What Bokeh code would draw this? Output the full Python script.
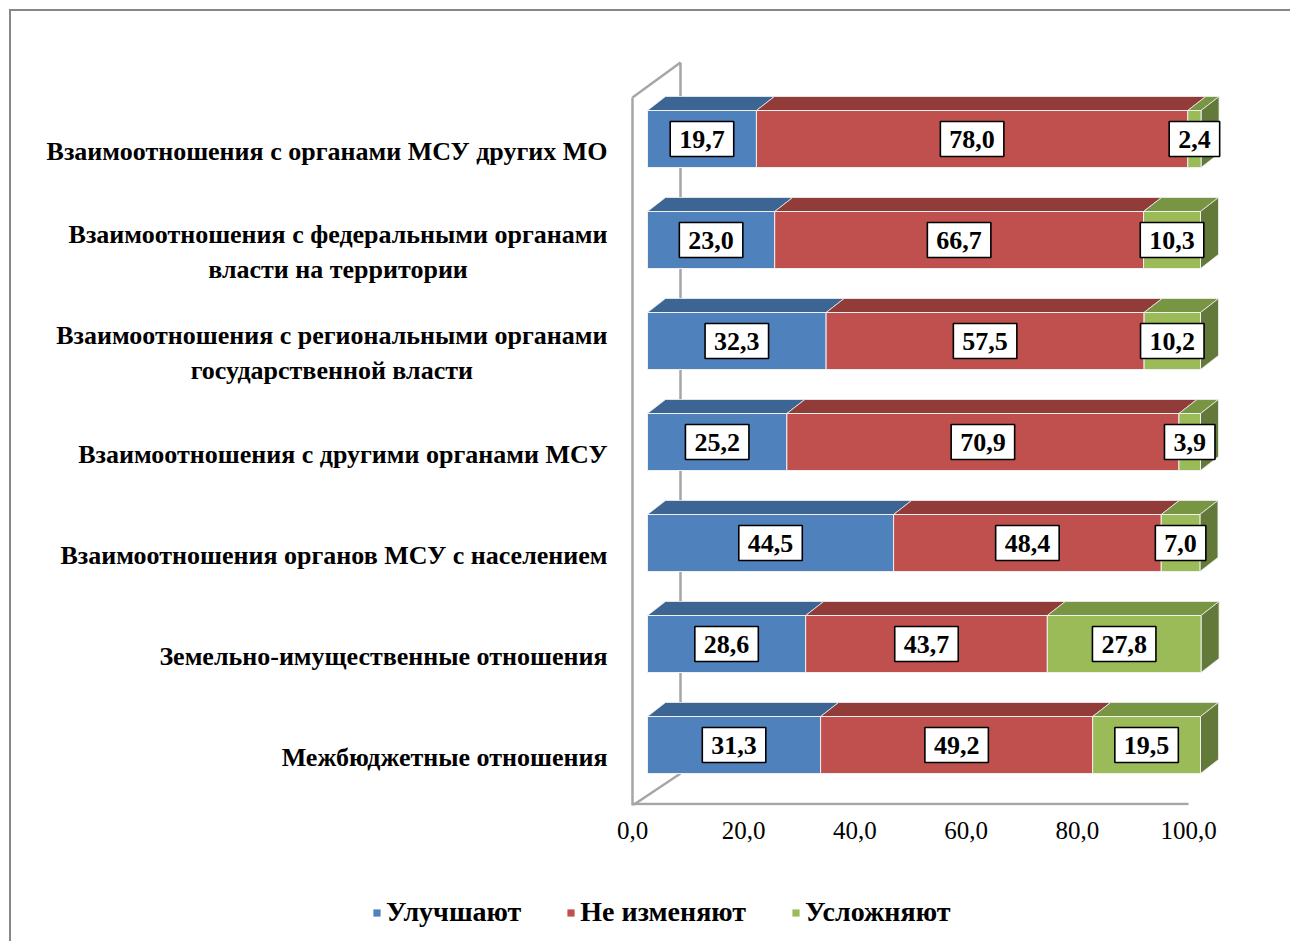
from bokeh.plotting import figure
from bokeh.layouts import column
from bokeh.models import Range1d, FixedTicker, Legend, LegendItem
from bokeh.embed import file_html
from bokeh.resources import INLINE
from bokeh.core.properties import value

# ---------------- data ----------------
categories = [
    "Взаимоотношения с органами МСУ других МО",
    "Взаимоотношения с федеральными органами\nвласти на территории",
    "Взаимоотношения с региональными органами\nгосударственной власти",
    "Взаимоотношения с другими органами МСУ",
    "Взаимоотношения органов МСУ с населением",
    "Земельно-имущественные отношения",
    "Межбюджетные отношения",
]
improve = [19.7, 23.0, 32.3, 25.2, 44.5, 28.6, 31.3]
no_change = [78.0, 66.7, 57.5, 70.9, 48.4, 43.7, 49.2]
complicate = [2.4, 10.3, 10.2, 3.9, 7.0, 27.8, 19.5]
series_names = ["Улучшают", "Не изменяют", "Усложняют"]
x_ticks = [0, 20, 40, 60, 80, 100]
x_tick_labels = ["0,0", "20,0", "40,0", "60,0", "80,0", "100,0"]

# ---------------- styling / geometry (page pixels) ----------------
front_colors = ["#4F81BD", "#C0504D", "#9BBB59"]
top_colors = ["#3C6593", "#923C3A", "#779542"]
side_color = "#62793A"
wall_color = "#A6A6A6"
FONT = "Liberation Serif"

ORIGIN = 11.0          # page offset of the canvas (margin 9 + border 2)
W = 1279
H_MAIN, H_LEG = 844, 86
SX = 5.56              # px per value unit
SY = 101.0             # px per row
AX0 = 632.0 - ORIGIN   # canvas x of value 0
ROW0_Y = 744.5 - ORIGIN  # canvas y of bottom row centre
FRAME_B = 805.0 - ORIGIN

x_start = -AX0 / SX
x_end = (W - AX0) / SX
y_start = (ROW0_Y - FRAME_B) / SY
y_end = ROW0_Y / SY

OFF = 15.0 / SX          # bar front face offset from axis origin
K = 553.0 / 556.0        # depth scale of bars
DX = 18.0 / SX           # 3-D depth, x
DY = 14.0 / SY           # 3-D depth, y
BAR_H = 57.0 / SY
WALL_D = 48.0 / SX

p = figure(frame_width=W, frame_height=int(FRAME_B),
           x_range=Range1d(x_start, x_end), y_range=Range1d(y_start, y_end),
           output_backend="svg", toolbar_location=None, y_axis_location=None,
           min_border_left=0, min_border_top=0, min_border_right=0,
           min_border_bottom=int(H_MAIN - FRAME_B))
p.xgrid.visible = False
p.ygrid.visible = False
p.outline_line_color = None
p.background_fill_color = "white"
p.border_fill_color = "white"

# ---------------- 3-D walls ----------------
def py(page_y):
    return (ROW0_Y - (page_y - ORIGIN)) / SY

wall_front_top = py(97)
wall_back_top = py(62)
wall_back_bot = py(773)
p.line([0, 0], [y_start, wall_front_top], line_color=wall_color, line_width=2.5)
p.line([WALL_D, WALL_D], [wall_back_bot, wall_back_top], line_color=wall_color, line_width=2.5)
p.line([0, WALL_D], [wall_front_top, wall_back_top], line_color=wall_color, line_width=2.5)
p.line([0, WALL_D], [y_start, wall_back_bot], line_color=wall_color, line_width=2.5)
p.line([0, 100], [y_start + 1.5 / SY, y_start + 1.5 / SY], line_color=wall_color, line_width=2.5)

# ---------------- bars ----------------
n = len(categories)
ypos = [n - 1 - i for i in range(n)]
series = [improve, no_change, complicate]

starts = [[0.0] * n]
for s in series[:-1]:
    starts.append([a + b for a, b in zip(starts[-1], s)])

for si, s in enumerate(series):
    lefts = [OFF + K * st for st in starts[si]]
    rights = [OFF + K * (st + v) for st, v in zip(starts[si], s)]
    xs, ys = [], []
    for l, r, yc in zip(lefts, rights, ypos):
        t = yc + BAR_H / 2
        xs.append([l, r, r + DX, l + DX])
        ys.append([t, t, t + DY, t + DY])
    p.patches(xs, ys, fill_color=top_colors[si], line_color="#f0f0f0", line_width=0.8)
    if si == len(series) - 1:
        sx_, sy_ = [], []
        for r, yc in zip(rights, ypos):
            t = yc + BAR_H / 2
            b = yc - BAR_H / 2
            sx_.append([r, r + DX, r + DX, r])
            sy_.append([t, t + DY, b + DY, b])
        p.patches(sx_, sy_, fill_color=side_color, line_color="#f0f0f0", line_width=0.8)
    p.hbar(y=ypos, left=lefts, right=rights, height=BAR_H,
           fill_color=front_colors[si], line_color="#f0f0f0", line_width=1)

# ---------------- data labels ----------------
for si, s in enumerate(series):
    cx = [OFF + K * (st + v / 2) for st, v in zip(starts[si], s)]
    txt = [f"{v:.1f}".replace(".", ",") for v in s]
    p.text(x=cx, y=ypos, text=txt, text_align="center", text_baseline="middle",
           text_font=value(FONT), text_font_style="bold", text_font_size="26px",
           text_color="black", background_fill_color="white",
           border_line_color="black", border_line_width=1.6, padding=(9, 9, 9, 9))

# ---------------- category labels ----------------
lab_x = (607 - ORIGIN - AX0) / SX
lab_y = [yc - 12.0 / SY for yc in ypos]
p.text(x=[lab_x] * n, y=lab_y, text=categories, text_align="center",
       anchor="center_right", text_baseline="middle",
       text_font=value(FONT), text_font_style="bold", text_font_size="26px",
       text_color="black", text_line_height=1.2)

# ---------------- x axis ----------------
ax = p.xaxis[0]
ax.ticker = FixedTicker(ticks=x_ticks)
ax.major_label_overrides = {t: l for t, l in zip(x_ticks, x_tick_labels)}
ax.axis_line_color = None
ax.major_tick_line_color = None
ax.minor_tick_line_color = None
ax.major_tick_out = 0
ax.major_label_standoff = 16
ax.major_label_text_font = FONT
ax.major_label_text_font_size = "25px"
ax.major_label_text_color = "black"

# ---------------- legend strip ----------------
pl = figure(frame_width=W, frame_height=H_LEG, x_range=Range1d(0, 1), y_range=Range1d(0, 1),
            output_backend="svg", toolbar_location=None,
            x_axis_location=None, y_axis_location=None,
            min_border_left=0, min_border_top=0, min_border_right=0, min_border_bottom=0)
pl.xgrid.visible = False
pl.ygrid.visible = False
pl.outline_line_color = None
pl.border_fill_color = "white"
# legend swatch renderers (single datum kept outside the visible range)
leg_renderers = [pl.quad(left=[2], right=[3], top=[3], bottom=[2], fill_color=c, line_color=None)
                 for c in front_colors]
legend = Legend(items=[LegendItem(label=nm, renderers=[r]) for nm, r in zip(series_names, leg_renderers)],
                orientation="horizontal", location=(361, 13),
                label_text_font=FONT, label_text_font_style="bold",
                label_text_font_size="28px", label_text_color="black",
                glyph_width=9, glyph_height=9, label_standoff=5, spacing=45,
                border_line_color=None, background_fill_alpha=0,
                margin=0, padding=4)
pl.add_layout(legend)

layout = column(p, pl, spacing=0, margin=(9, 0, 0, 9),
                styles={"border-left": "2px solid #878787", "border-top": "2px solid #878787"})

open("out.html", "w").write(file_html(layout, INLINE))
